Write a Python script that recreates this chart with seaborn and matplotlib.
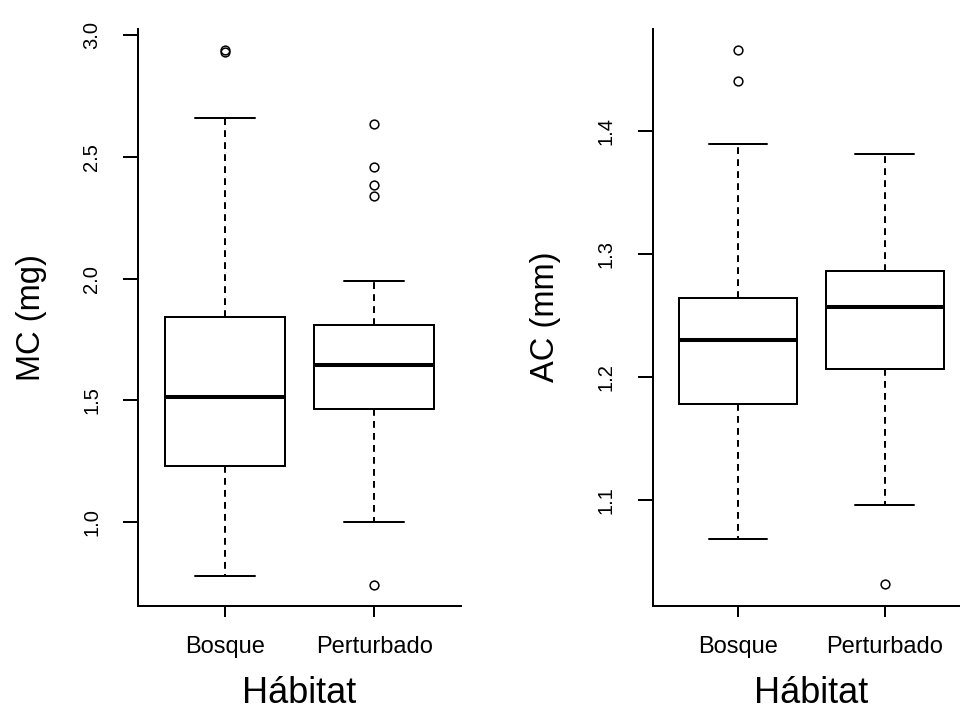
import matplotlib
matplotlib.use("Agg")
import matplotlib.pyplot as plt
import seaborn as sns
import pandas as pd

# ---- data (five-number summaries + outliers) ----
groups = ["Bosque", "Perturbado"]

mc_whisker_low = [0.782, 1.000]
mc_q1 = [1.230, 1.464]
mc_median = [1.513, 1.645]
mc_q3 = [1.842, 1.809]
mc_whisker_high = [2.659, 1.990]
mc_outliers = [[2.930, 2.938], [0.745, 2.340, 2.384, 2.458, 2.634]]

ac_whisker_low = [1.068, 1.096]
ac_q1 = [1.178, 1.206]
ac_median = [1.230, 1.257]
ac_q3 = [1.264, 1.286]
ac_whisker_high = [1.389, 1.381]
ac_outliers = [[1.441, 1.466], [1.031]]

mc_ticks = [1.0, 1.5, 2.0, 2.5, 3.0]
ac_ticks = [1.1, 1.2, 1.3, 1.4]


def summary_values(lo, q1, med, q3, hi, outs, k=20):
    # repeated quartile values so the box statistics equal the read summary
    return list(outs) + [lo] + [q1] * k + [med] * k + [q3] * k + [hi]


def build_frame(lo, q1, med, q3, hi, outs, name):
    rows = []
    for i, g in enumerate(groups):
        for v in summary_values(lo[i], q1[i], med[i], q3[i], hi[i], outs[i]):
            rows.append({"Hábitat": g, name: v})
    return pd.DataFrame(rows)


df_mc = build_frame(mc_whisker_low, mc_q1, mc_median, mc_q3, mc_whisker_high, mc_outliers, "MC")
df_ac = build_frame(ac_whisker_low, ac_q1, ac_median, ac_q3, ac_whisker_high, ac_outliers, "AC")

sns.set_style("ticks")
plt.rcParams["font.family"] = ["Liberation Sans", "DejaVu Sans"]

W, H = 960, 711
fig = plt.figure(figsize=(W / 100, H / 100), dpi=100)
ax1 = fig.add_axes([138 / W, 1 - 606 / H, 323 / W, (606 - 28.5) / H])
ax2 = fig.add_axes([652.7 / W, 1 - 606 / H, 317.3 / W, (606 - 28.5) / H])

lw = 1.44
box_kws = dict(
    color="white",
    linecolor="black",
    linewidth=lw,
    width=0.8,
    fliersize=6.3,
    boxprops=dict(facecolor="white", edgecolor="black", linewidth=lw),
    whiskerprops=dict(color="black", linewidth=lw, linestyle=(0, (3.4, 2.6))),
    capprops=dict(color="black", linewidth=lw, linestyle="-"),
    medianprops=dict(color="black", linewidth=2.9),
    flierprops=dict(marker="o", markerfacecolor="none", markeredgecolor="black",
                    markersize=6.3, markeredgewidth=1.1),
)

panels = [
    (ax1, df_mc, "MC", "MC (mg)", (0.657, 3.026), mc_ticks, 25),
    (ax2, df_ac, "AC", "AC (mm)", (1.0134, 1.4834), ac_ticks, 26),
]

for ax, df, col, ylabel, ylim, ticks, ypad in panels:
    sns.boxplot(data=df, x="Hábitat", y=col, order=groups, ax=ax, **box_kws)
    ax.set_xlim(-0.58, 1.58)
    ax.set_ylim(*ylim)
    ax.set_yticks(ticks)
    ax.set_yticklabels([f"{t:.1f}" for t in ticks])
    for lab in ax.get_yticklabels():
        lab.set_rotation(90)
        lab.set_va("center")
        lab.set_ha("right")
    ax.tick_params(axis="y", length=10.5, width=lw, pad=16, labelsize=14.5, colors="black")
    ax.tick_params(axis="x", length=7.8, width=lw, pad=14, labelsize=17, colors="black")
    for s in ["top", "right"]:
        ax.spines[s].set_visible(False)
    for s in ["left", "bottom"]:
        ax.spines[s].set_linewidth(lw)
        ax.spines[s].set_color("black")
    ax.set_xlabel("Hábitat", fontsize=26, labelpad=13, color="black")
    ax.set_ylabel(ylabel, fontsize=23.5, labelpad=ypad, color="black")
    ax.set_facecolor("white")

fig.patch.set_facecolor("white")
fig.savefig("out.png", dpi=100, facecolor="white")
